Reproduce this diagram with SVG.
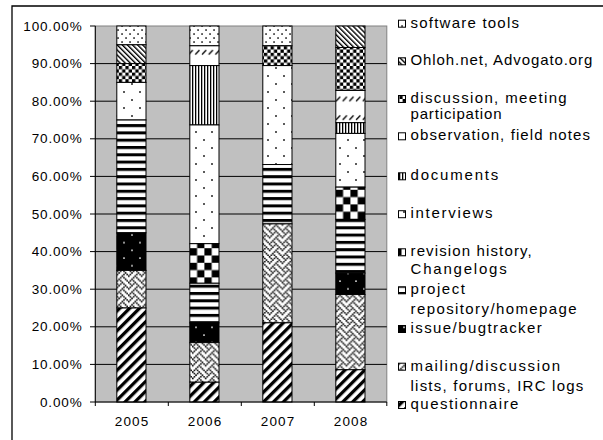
<svg xmlns="http://www.w3.org/2000/svg" width="603" height="440" viewBox="0 0 603 440">
<style>
.ax{font-family:"Liberation Sans",Arial,sans-serif;font-size:13.5px;fill:#000}
.lg{font-family:"Liberation Sans",Arial,sans-serif;font-size:15px;fill:#000}
.seg{stroke:#000;stroke-width:1}
.grid{stroke:#000;stroke-width:1}
.tick{stroke:#000;stroke-width:1}
</style>
<defs>
<pattern id="pSoft" width="8" height="8" patternUnits="userSpaceOnUse">
<rect width="8" height="8" fill="#fff"/>
<rect x="1.3" y="1.3" width="1.5" height="1.5" fill="#000"/>
<rect x="5.3" y="5.3" width="1.5" height="1.5" fill="#000"/>
</pattern>
<pattern id="pOhloh" width="3.6" height="10" patternUnits="userSpaceOnUse" patternTransform="rotate(-45)">
<rect width="3.6" height="10" fill="#fff"/>
<rect width="1.4" height="10" fill="#000"/>
</pattern>
<pattern id="pDisc" width="6.6" height="6.6" patternUnits="userSpaceOnUse">
<rect width="6.6" height="6.6" fill="#fff"/>
<rect width="3.3" height="3.3" fill="#000"/>
<rect x="3.3" y="3.3" width="3.3" height="3.3" fill="#000"/>
</pattern>
<pattern id="pObsA" width="6.7" height="18.7" y="5.55" patternUnits="userSpaceOnUse">
<rect width="6.7" height="18.7" fill="#fff"/>
<path d="M1 11.6 L5.2 7.1" stroke="#000" stroke-width="1.3"/>
</pattern>
<pattern id="pObsB" width="6.7" height="18.7" y="14.85" patternUnits="userSpaceOnUse">
<rect width="6.7" height="18.7" fill="#fff"/>
<path d="M1 11.6 L5.2 7.1" stroke="#000" stroke-width="1.3"/>
</pattern>
<pattern id="pDoc" width="3" height="4" patternUnits="userSpaceOnUse">
<rect width="3" height="4" fill="#fff"/>
<rect width="1.3" height="4" fill="#000"/>
</pattern>
<pattern id="pInt" width="16" height="16" patternUnits="userSpaceOnUse">
<rect width="16" height="16" fill="#fff"/>
<rect x="3.2" y="3.2" width="1.6" height="1.6" fill="#000"/>
<rect x="11.2" y="11.2" width="1.6" height="1.6" fill="#000"/>
</pattern>
<pattern id="pRev" width="14.6" height="14.6" patternUnits="userSpaceOnUse">
<rect width="14.6" height="14.6" fill="#fff"/>
<rect width="7.3" height="7.3" fill="#000"/>
<rect x="7.3" y="7.3" width="7.3" height="7.3" fill="#000"/>
</pattern>
<pattern id="pProj" width="8" height="7.3" patternUnits="userSpaceOnUse">
<rect width="8" height="7.3" fill="#fff"/>
<rect width="8" height="3" fill="#000"/>
</pattern>
<pattern id="pIssue" width="16" height="15.4" patternUnits="userSpaceOnUse">
<rect width="16" height="15.4" fill="#000"/>
<rect x="3.2" y="3.2" width="1.6" height="1.6" fill="#ddd"/>
<rect x="11.2" y="10.9" width="1.6" height="1.6" fill="#ddd"/>
</pattern>
<pattern id="pMail" width="12.8" height="12.8" patternUnits="userSpaceOnUse">
<rect width="12.8" height="12.8" fill="#fff"/>
<path fill="#000" d="M0 0h1.6v1.6h-1.6zM6.4 0h1.6v1.6h-1.6zM1.6 1.6h1.6v1.6h-1.6zM4.8 1.6h1.6v1.6h-1.6zM8 1.6h1.6v1.6h-1.6zM3.2 3.2h1.6v1.6h-1.6zM9.6 3.2h1.6v1.6h-1.6zM1.6 4.8h1.6v1.6h-1.6zM8 4.8h1.6v1.6h-1.6zM11.2 4.8h1.6v1.6h-1.6zM0 6.4h1.6v1.6h-1.6zM6.4 6.4h1.6v1.6h-1.6zM4.8 8h1.6v1.6h-1.6zM8 8h1.6v1.6h-1.6zM3.2 9.6h1.6v1.6h-1.6zM9.6 9.6h1.6v1.6h-1.6zM1.6 11.2h1.6v1.6h-1.6zM4.8 11.2h1.6v1.6h-1.6zM11.2 11.2h1.6v1.6h-1.6z"/>
</pattern>
<pattern id="pQuest" width="7" height="10" patternUnits="userSpaceOnUse" patternTransform="rotate(45)">
<rect width="7" height="10" fill="#fff"/>
<rect width="3.3" height="10" fill="#000"/>
</pattern>
</defs>

<path d="M12 440 V6 H603" fill="none" stroke="#000" stroke-width="1.3"/>

<g id="plot-area">
<rect x="95.3" y="26" width="291.5" height="376" fill="#c0c0c0" stroke="#808080" stroke-width="1"/>
<g class="grid">
<line x1="95.3" y1="364.4" x2="386.8" y2="364.4"/>
<line x1="95.3" y1="326.8" x2="386.8" y2="326.8"/>
<line x1="95.3" y1="289.2" x2="386.8" y2="289.2"/>
<line x1="95.3" y1="251.6" x2="386.8" y2="251.6"/>
<line x1="95.3" y1="214" x2="386.8" y2="214"/>
<line x1="95.3" y1="176.4" x2="386.8" y2="176.4"/>
<line x1="95.3" y1="138.8" x2="386.8" y2="138.8"/>
<line x1="95.3" y1="101.2" x2="386.8" y2="101.2"/>
<line x1="95.3" y1="63.6" x2="386.8" y2="63.6"/>
</g>
</g>

<g id="bar-2005" class="seg">
<rect x="116.8" y="26" width="29.2" height="18.8" fill="url(#pSoft)"/>
<rect x="116.8" y="44.8" width="29.2" height="18.8" fill="url(#pOhloh)"/>
<rect x="116.8" y="63.6" width="29.2" height="18.8" fill="url(#pDisc)"/>
<rect x="116.8" y="82.4" width="29.2" height="37.6" fill="url(#pInt)"/>
<rect x="116.8" y="120" width="29.2" height="112.8" fill="url(#pProj)"/>
<rect x="116.8" y="232.8" width="29.2" height="37.6" fill="url(#pIssue)"/>
<rect x="116.8" y="270.4" width="29.2" height="37.6" fill="url(#pMail)"/>
<rect x="116.8" y="308" width="29.2" height="94" fill="url(#pQuest)"/>
</g>
<g id="bar-2006" class="seg">
<rect x="189.8" y="26" width="29.2" height="19.79" fill="url(#pSoft)"/>
<rect x="189.8" y="45.79" width="29.2" height="19.79" fill="url(#pObsA)"/>
<rect x="189.8" y="65.58" width="29.2" height="59.37" fill="url(#pDoc)"/>
<rect x="189.8" y="124.95" width="29.2" height="118.73" fill="url(#pInt)"/>
<rect x="189.8" y="243.68" width="29.2" height="39.58" fill="url(#pRev)"/>
<rect x="189.8" y="283.26" width="29.2" height="39.58" fill="url(#pProj)"/>
<rect x="189.8" y="322.84" width="29.2" height="19.79" fill="url(#pIssue)"/>
<rect x="189.8" y="342.63" width="29.2" height="39.58" fill="url(#pMail)"/>
<rect x="189.8" y="382.21" width="29.2" height="19.79" fill="url(#pQuest)"/>
</g>
<g id="bar-2007" class="seg">
<rect x="262.8" y="26" width="29.2" height="19.79" fill="url(#pSoft)"/>
<rect x="262.8" y="45.79" width="29.2" height="19.79" fill="url(#pDisc)"/>
<rect x="262.8" y="65.58" width="29.2" height="98.95" fill="url(#pInt)"/>
<rect x="262.8" y="164.53" width="29.2" height="59.36" fill="url(#pProj)"/>
<rect x="262.8" y="223.89" width="29.2" height="98.95" fill="url(#pMail)"/>
<rect x="262.8" y="322.84" width="29.2" height="79.16" fill="url(#pQuest)"/>
</g>
<g id="bar-2008" class="seg">
<rect x="335.8" y="26" width="29.2" height="21.49" fill="url(#pOhloh)"/>
<rect x="335.8" y="47.49" width="29.2" height="42.97" fill="url(#pDisc)"/>
<rect x="335.8" y="90.46" width="29.2" height="32.23" fill="url(#pObsB)"/>
<rect x="335.8" y="122.69" width="29.2" height="10.74" fill="url(#pDoc)"/>
<rect x="335.8" y="133.43" width="29.2" height="53.71" fill="url(#pInt)"/>
<rect x="335.8" y="187.14" width="29.2" height="32.23" fill="url(#pRev)"/>
<rect x="335.8" y="219.37" width="29.2" height="53.72" fill="url(#pProj)"/>
<rect x="335.8" y="273.09" width="29.2" height="21.48" fill="url(#pIssue)"/>
<rect x="335.8" y="294.57" width="29.2" height="75.2" fill="url(#pMail)"/>
<rect x="335.8" y="369.77" width="29.2" height="32.23" fill="url(#pQuest)"/>
</g>

<g id="axes" class="tick">
<line x1="95.3" y1="26" x2="95.3" y2="406"/>
<line x1="95.3" y1="402" x2="386.8" y2="402"/>
<line x1="90" y1="402" x2="95.3" y2="402"/>
<line x1="90" y1="364.4" x2="95.3" y2="364.4"/>
<line x1="90" y1="326.8" x2="95.3" y2="326.8"/>
<line x1="90" y1="289.2" x2="95.3" y2="289.2"/>
<line x1="90" y1="251.6" x2="95.3" y2="251.6"/>
<line x1="90" y1="214" x2="95.3" y2="214"/>
<line x1="90" y1="176.4" x2="95.3" y2="176.4"/>
<line x1="90" y1="138.8" x2="95.3" y2="138.8"/>
<line x1="90" y1="101.2" x2="95.3" y2="101.2"/>
<line x1="90" y1="63.6" x2="95.3" y2="63.6"/>
<line x1="90" y1="26" x2="95.3" y2="26"/>
<line x1="168.3" y1="402" x2="168.3" y2="406"/>
<line x1="241.3" y1="402" x2="241.3" y2="406"/>
<line x1="314.3" y1="402" x2="314.3" y2="406"/>
<line x1="386.8" y1="402" x2="386.8" y2="406"/>
</g>

<g id="y-labels" class="ax" text-anchor="end">
<text x="81.7" y="30.6" textLength="58.4">100.00%</text>
<text x="81.7" y="68.2" textLength="50">90.00%</text>
<text x="81.7" y="105.8" textLength="50">80.00%</text>
<text x="81.7" y="143.4" textLength="50">70.00%</text>
<text x="81.7" y="181" textLength="50">60.00%</text>
<text x="81.7" y="218.6" textLength="50">50.00%</text>
<text x="81.7" y="256.2" textLength="50">40.00%</text>
<text x="81.7" y="293.8" textLength="50">30.00%</text>
<text x="81.7" y="331.4" textLength="50">20.00%</text>
<text x="81.7" y="369" textLength="50">10.00%</text>
<text x="81.7" y="406.6" textLength="41.7">0.00%</text>
</g>

<g id="x-labels" class="ax" text-anchor="middle">
<text x="131.5" y="426" textLength="33.3">2005</text>
<text x="204.5" y="426" textLength="33.3">2006</text>
<text x="277.5" y="426" textLength="33.3">2007</text>
<text x="350.5" y="426" textLength="33.3">2008</text>
</g>

<g id="legend">
<g id="lg-software"><rect class="seg" x="398.5" y="20.2" width="7" height="7" fill="url(#pSoft)"/><text class="lg" x="410.5" y="27.7" textLength="108.5">software tools</text></g>
<g id="lg-ohloh"><rect class="seg" x="398.5" y="57.8" width="7" height="7" fill="url(#pOhloh)"/><text class="lg" x="410.5" y="65.3" textLength="181.8">Ohloh.net, Advogato.org</text></g>
<g id="lg-discussion"><rect class="seg" x="398.5" y="95.5" width="7" height="7" fill="url(#pDisc)"/><text class="lg" x="410.5" y="103" textLength="156.2">discussion, meeting</text><text class="lg" x="410.5" y="119" textLength="91">participation</text></g>
<g id="lg-observation"><rect class="seg" x="398.5" y="132.8" width="7" height="7" fill="url(#pObsA)"/><text class="lg" x="410.5" y="140.3" textLength="179.5">observation, field notes</text></g>
<g id="lg-documents"><rect class="seg" x="398.5" y="172.8" width="7" height="7" fill="url(#pDoc)"/><text class="lg" x="410.5" y="180.3" textLength="87.8">documents</text></g>
<g id="lg-interviews"><rect class="seg" x="398.5" y="210.7" width="7" height="7" fill="url(#pInt)"/><text class="lg" x="410.5" y="218.2" textLength="82">interviews</text></g>
<g id="lg-revision"><rect class="seg" x="398.5" y="248.8" width="7" height="7" fill="url(#pRev)"/><text class="lg" x="410.5" y="256.3" textLength="121.2">revision history,</text><text class="lg" x="410.5" y="274.3" textLength="96.2">Changelogs</text></g>
<g id="lg-project"><rect class="seg" x="398.5" y="286.8" width="7" height="7" fill="url(#pProj)"/><text class="lg" x="410.5" y="294.3" textLength="54.5">project</text><text class="lg" x="410.5" y="313.7" textLength="166.2">repository/homepage</text></g>
<g id="lg-issue"><rect class="seg" x="398.5" y="325.5" width="7" height="7" fill="url(#pIssue)"/><text class="lg" x="410.5" y="333" textLength="131.2">issue/bugtracker</text></g>
<g id="lg-mailing"><rect class="seg" x="398.5" y="363.2" width="7" height="7" fill="url(#pMail)"/><text class="lg" x="410.5" y="370.7" textLength="149.5">mailing/discussion</text><text class="lg" x="410.5" y="390.5" textLength="172.8">lists, forums, IRC logs</text></g>
<g id="lg-questionnaire"><rect class="seg" x="398.5" y="401.5" width="7" height="7" fill="url(#pQuest)"/><text class="lg" x="410.5" y="409" textLength="107.8">questionnaire</text></g>
</g>
</svg>
